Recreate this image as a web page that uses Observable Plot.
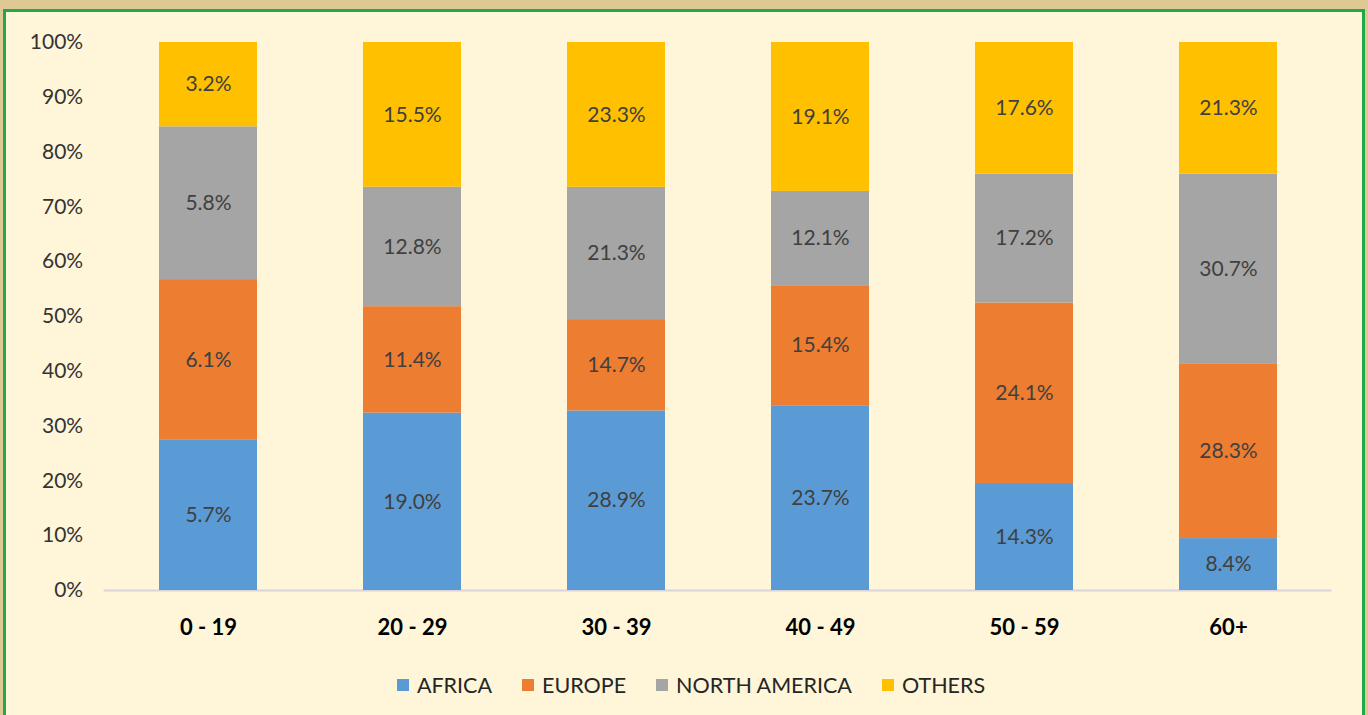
<!DOCTYPE html>
<html>
<head>
<meta charset="utf-8">
<script src="https://cdn.jsdelivr.net/npm/d3@7"></script>
<script src="https://cdn.jsdelivr.net/npm/@observablehq/plot@0.6"></script>
<style>
  html, body { margin: 0; padding: 0; width: 1368px; height: 715px; overflow: hidden; background: #dec994; font-family: Lato, "Open Sans", sans-serif; }
  #frame { position: absolute; left: 3px; top: 9px; width: 1356px; height: 720px; border: 3px solid #22a84a; background: #fff5d8; }
  #chart { position: absolute; left: 0; top: 0; }
  #legend { position: absolute; left: 0; top: 672px; width: 1382px; display: flex; justify-content: center; gap: 30px; font-size: 21.5px; color: #262626; }
  .item { display: flex; align-items: center; gap: 8px; }
  .sw { width: 12px; height: 12px; display: inline-block; }
</style>
</head>
<body>
<div id="frame"></div>
<div id="chart"></div>
<div id="legend"></div>
<script>
const ageGroups = ["0 - 19", "20 - 29", "30 - 39", "40 - 49", "50 - 59", "60+"];
const regions = ["AFRICA", "EUROPE", "NORTH AMERICA", "OTHERS"];
const africa = [5.7, 19.0, 28.9, 23.7, 14.3, 8.4];
const europe = [6.1, 11.4, 14.7, 15.4, 24.1, 28.3];
const northAmerica = [5.8, 12.8, 21.3, 12.1, 17.2, 30.7];
const others = [3.2, 15.5, 23.3, 19.1, 17.6, 21.3];
const colors = ["#5b9bd5", "#ed7d31", "#a5a5a5", "#ffc000"];
const yTicks = [0, 0.1, 0.2, 0.3, 0.4, 0.5, 0.6, 0.7, 0.8, 0.9, 1];

const series = [africa, europe, northAmerica, others];
const rows = [];
ageGroups.forEach((age, i) => {
  regions.forEach((region, j) => {
    rows.push({age, region, value: series[j][i]});
  });
});

const chart = Plot.plot({
  width: 1368,
  height: 660,
  marginLeft: 103.7,
  marginRight: 36.7,
  marginTop: 42,
  marginBottom: 70,
  style: {background: "transparent", fontFamily: "Lato, 'Open Sans', sans-serif", color: "#333"},
  x: {domain: ageGroups, paddingInner: 0.52, paddingOuter: 0.26, label: null},
  y: {domain: [0, 1], label: null},
  color: {domain: regions, range: colors},
  marks: [
    Plot.ruleY([0], {stroke: "#d9d3dc", strokeWidth: 2}),
    Plot.barY(rows, Plot.stackY({offset: "normalize", x: "age", y: "value", fill: "region", z: "region"})),
    Plot.text(rows, Plot.stackY({
      offset: "normalize", x: "age", y: "value", z: "region",
      text: d => d.value.toFixed(1) + "%",
      fill: "#404040", fontSize: 21
    })),
    Plot.axisY({ticks: yTicks, tickFormat: d => Math.round(d * 100) + "%", tickSize: 0, tickPadding: 21, fontSize: 21, fill: "#333", label: null}),
    Plot.axisX({tickSize: 0, tickPadding: 29, fontSize: 22, fontWeight: "bold", fill: "#000", label: null})
  ]
});
document.getElementById("chart").appendChild(chart);

const legend = document.getElementById("legend");
regions.forEach((r, i) => {
  const item = document.createElement("div");
  item.className = "item";
  const sw = document.createElement("span");
  sw.className = "sw";
  sw.style.background = colors[i];
  const t = document.createElement("span");
  t.textContent = r;
  item.appendChild(sw);
  item.appendChild(t);
  legend.appendChild(item);
});
</script>
</body>
</html>
